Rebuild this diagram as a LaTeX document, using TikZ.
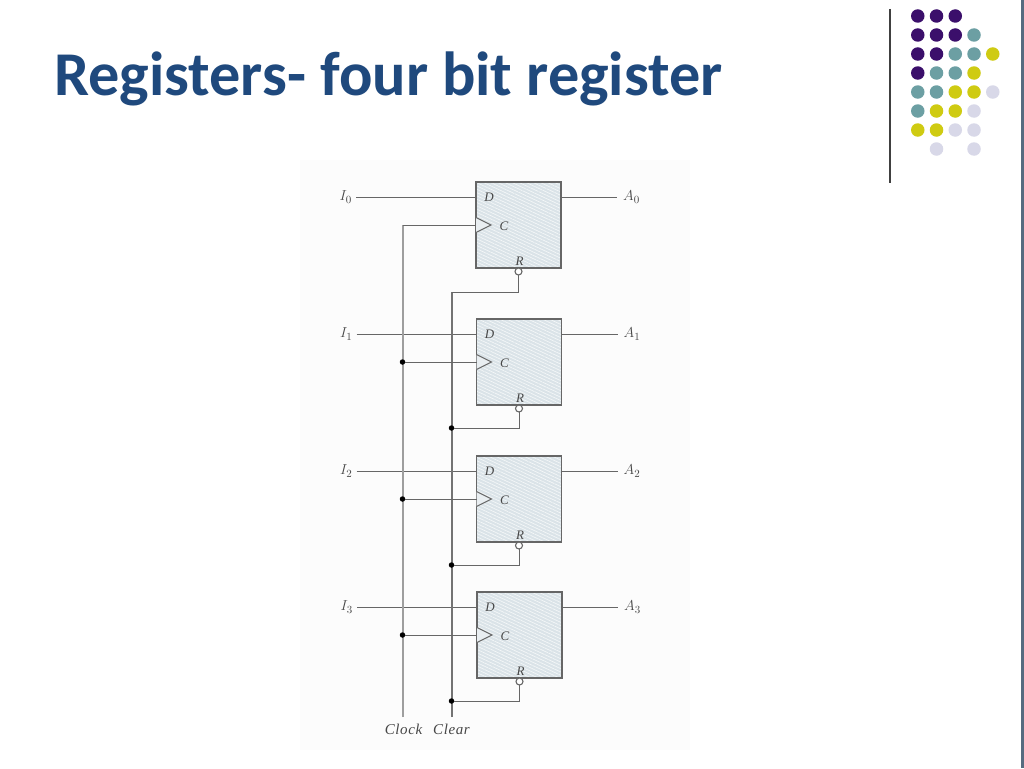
\documentclass[tikz,border=0pt]{standalone}
\usepackage{fontspec}
\setmainfont{Liberation Serif}
\newfontfamily\titlefont{Carlito}
\usetikzlibrary{calc,patterns.meta}
\definecolor{titleblue}{HTML}{1F497D}
\definecolor{dotP}{HTML}{3B0F6B}
\definecolor{dotT}{HTML}{6C9FA3}
\definecolor{dotY}{HTML}{CFCB12}
\definecolor{dotL}{HTML}{D8D8E8}
\definecolor{wire}{HTML}{666666}
\definecolor{boxfill}{HTML}{DAE3E8}
\definecolor{band}{HTML}{566B80}
\tikzset{
  x=1pt,y=-1pt,
  ffbox/.style={draw=wire,line width=1.6pt,fill=boxfill,minimum width=85pt,minimum height=86pt,inner sep=0pt,outer sep=0pt},
  hatchbox/.style={pattern={Lines[angle=-25,distance=3pt,line width=.7pt]},pattern color=white!70!boxfill},
  wirel/.style={draw=wire,line width=1pt},
  clockl/.style={draw=black!38,line width=2pt},
  clearl/.style={draw=black!55,line width=2pt},
  lab/.style={inner sep=1.5pt,font=\fontsize{13}{15}\selectfont\itshape,text=black!72},
  iolab/.style={font=\fontsize{15}{17}\selectfont,text=black!72},
  buslab/.style={inner sep=1.5pt,font=\fontsize{15}{17}\selectfont\itshape\addfontfeature{LetterSpace=4},text=black!72},
  dotm/.style={circle,fill=black,inner sep=0pt,minimum size=5.5pt},
  bubble/.style={circle,draw=wire,fill=white,line width=1.1pt,inner sep=0pt,minimum size=7pt,outer sep=0pt},
  clk/.style={draw=wire,fill=white!40!boxfill,line width=1pt},
  dd/.style={circle,inner sep=0pt,minimum size=13.5pt}
}
\begin{document}
\begin{tikzpicture}
\useasboundingbox (0,0) rectangle (1024,768);
\fill[white] (0,0) rectangle (1024,768);
\fill[black!1] (300,160) rectangle (690,750);
\fill[band] (1020.5,0) rectangle (1024,768);
\node[anchor=base west,inner sep=0pt,text=titleblue,font=\fontsize{62.3}{66}\selectfont\titlefont\bfseries] (title) at (54,95) {Registers- four bit register};
% decoration
\coordinate (barT) at (890,9); \coordinate (barB) at (890,183);
\draw[black!75,line width=1.2pt] (barT) -- (barB);
\foreach \c/\r/\col in {1/1/dotP,2/1/dotP,3/1/dotP,
 1/2/dotP,2/2/dotP,3/2/dotP,4/2/dotT,
 1/3/dotP,2/3/dotP,3/3/dotT,4/3/dotT,5/3/dotY,
 1/4/dotP,2/4/dotT,3/4/dotT,4/4/dotY,
 1/5/dotT,2/5/dotT,3/5/dotY,4/5/dotY,5/5/dotL,
 1/6/dotT,2/6/dotY,3/6/dotY,4/6/dotL,
 1/7/dotY,2/7/dotY,3/7/dotL,4/7/dotL,
 2/8/dotL,4/8/dotL}
  \node[dd,fill=\col] (d\c\r) at ({899+18.75*\c},{-3+19*\r}) {};
% flip-flops
\foreach \n/\y/\x in {0/225/518.5,1/362/519,2/499/519,3/635/519.5}{
  \node[ffbox] (ff\n) at (\x,\y) {};
  \fill[hatchbox] (ff\n.south west) rectangle (ff\n.north east);
  \draw[wire,line width=1.6pt] (ff\n.south west) rectangle (ff\n.north east);
  \node[lab,anchor=base] (D\n) at ($(ff\n.west)+(13,-24)$) {D};
  \node[lab,anchor=base] (C\n) at ($(ff\n.west)+(28,5)$) {C};
  \node[lab,anchor=base] (R\n) at ($(ff\n.south)+(1,-3)$) {R};
  \node[bubble,anchor=north] (B\n) at (ff\n.south) {};
  \coordinate (clkin\n) at (ff\n.west);
  \draw[clk] (clkin\n)+(0,-7.5) -- ++(15,0) -- ($(clkin\n)+(0,7.5)$);
  \node[iolab,inner sep=4pt,anchor=east] (I\n) at ($(ff\n.west)+(-120,-28)$) {$I_{\n}$};
  \node[iolab,inner sep=6pt,anchor=west] (A\n) at ($(ff\n.east)+(56,-28)$) {$A_{\n}$};
  \draw[wirel] (I\n.east) -- (I\n.east -| ff\n.west);
  \draw[wirel] (A\n.west -| ff\n.east) -- (A\n.west);
}
% bus ends
\node[buslab,anchor=base] (clock) at (403.5,734) {Clock};
\node[buslab,anchor=base] (clear) at (451.5,734) {Clear};
\coordinate (clkEnd) at (402.5,717);
\coordinate (clrEnd) at (451.5,717);
\coordinate (clkTop) at (402.5,225);
\coordinate (clrTop) at (451.5,292);
\draw[clockl] (clkEnd) -- (clkTop);
\draw[wirel] (clkTop) -- (ff0.west);
\draw[clearl] (clrEnd) -- (clrTop);
\draw[wirel] (clrTop) -| (B0.south);
\foreach \n/\yc/\yr in {1/362/428,2/499/565,3/635/701}{
  \node[dotm] (jc\n) at (402.5,\yc) {};
  \node[dotm] (jr\n) at (451.5,\yr) {};
  \draw[wirel] (jc\n) -- (ff\n.west);
  \draw[wirel] (jr\n) -| (B\n.south);
}
\end{tikzpicture}
\end{document}
